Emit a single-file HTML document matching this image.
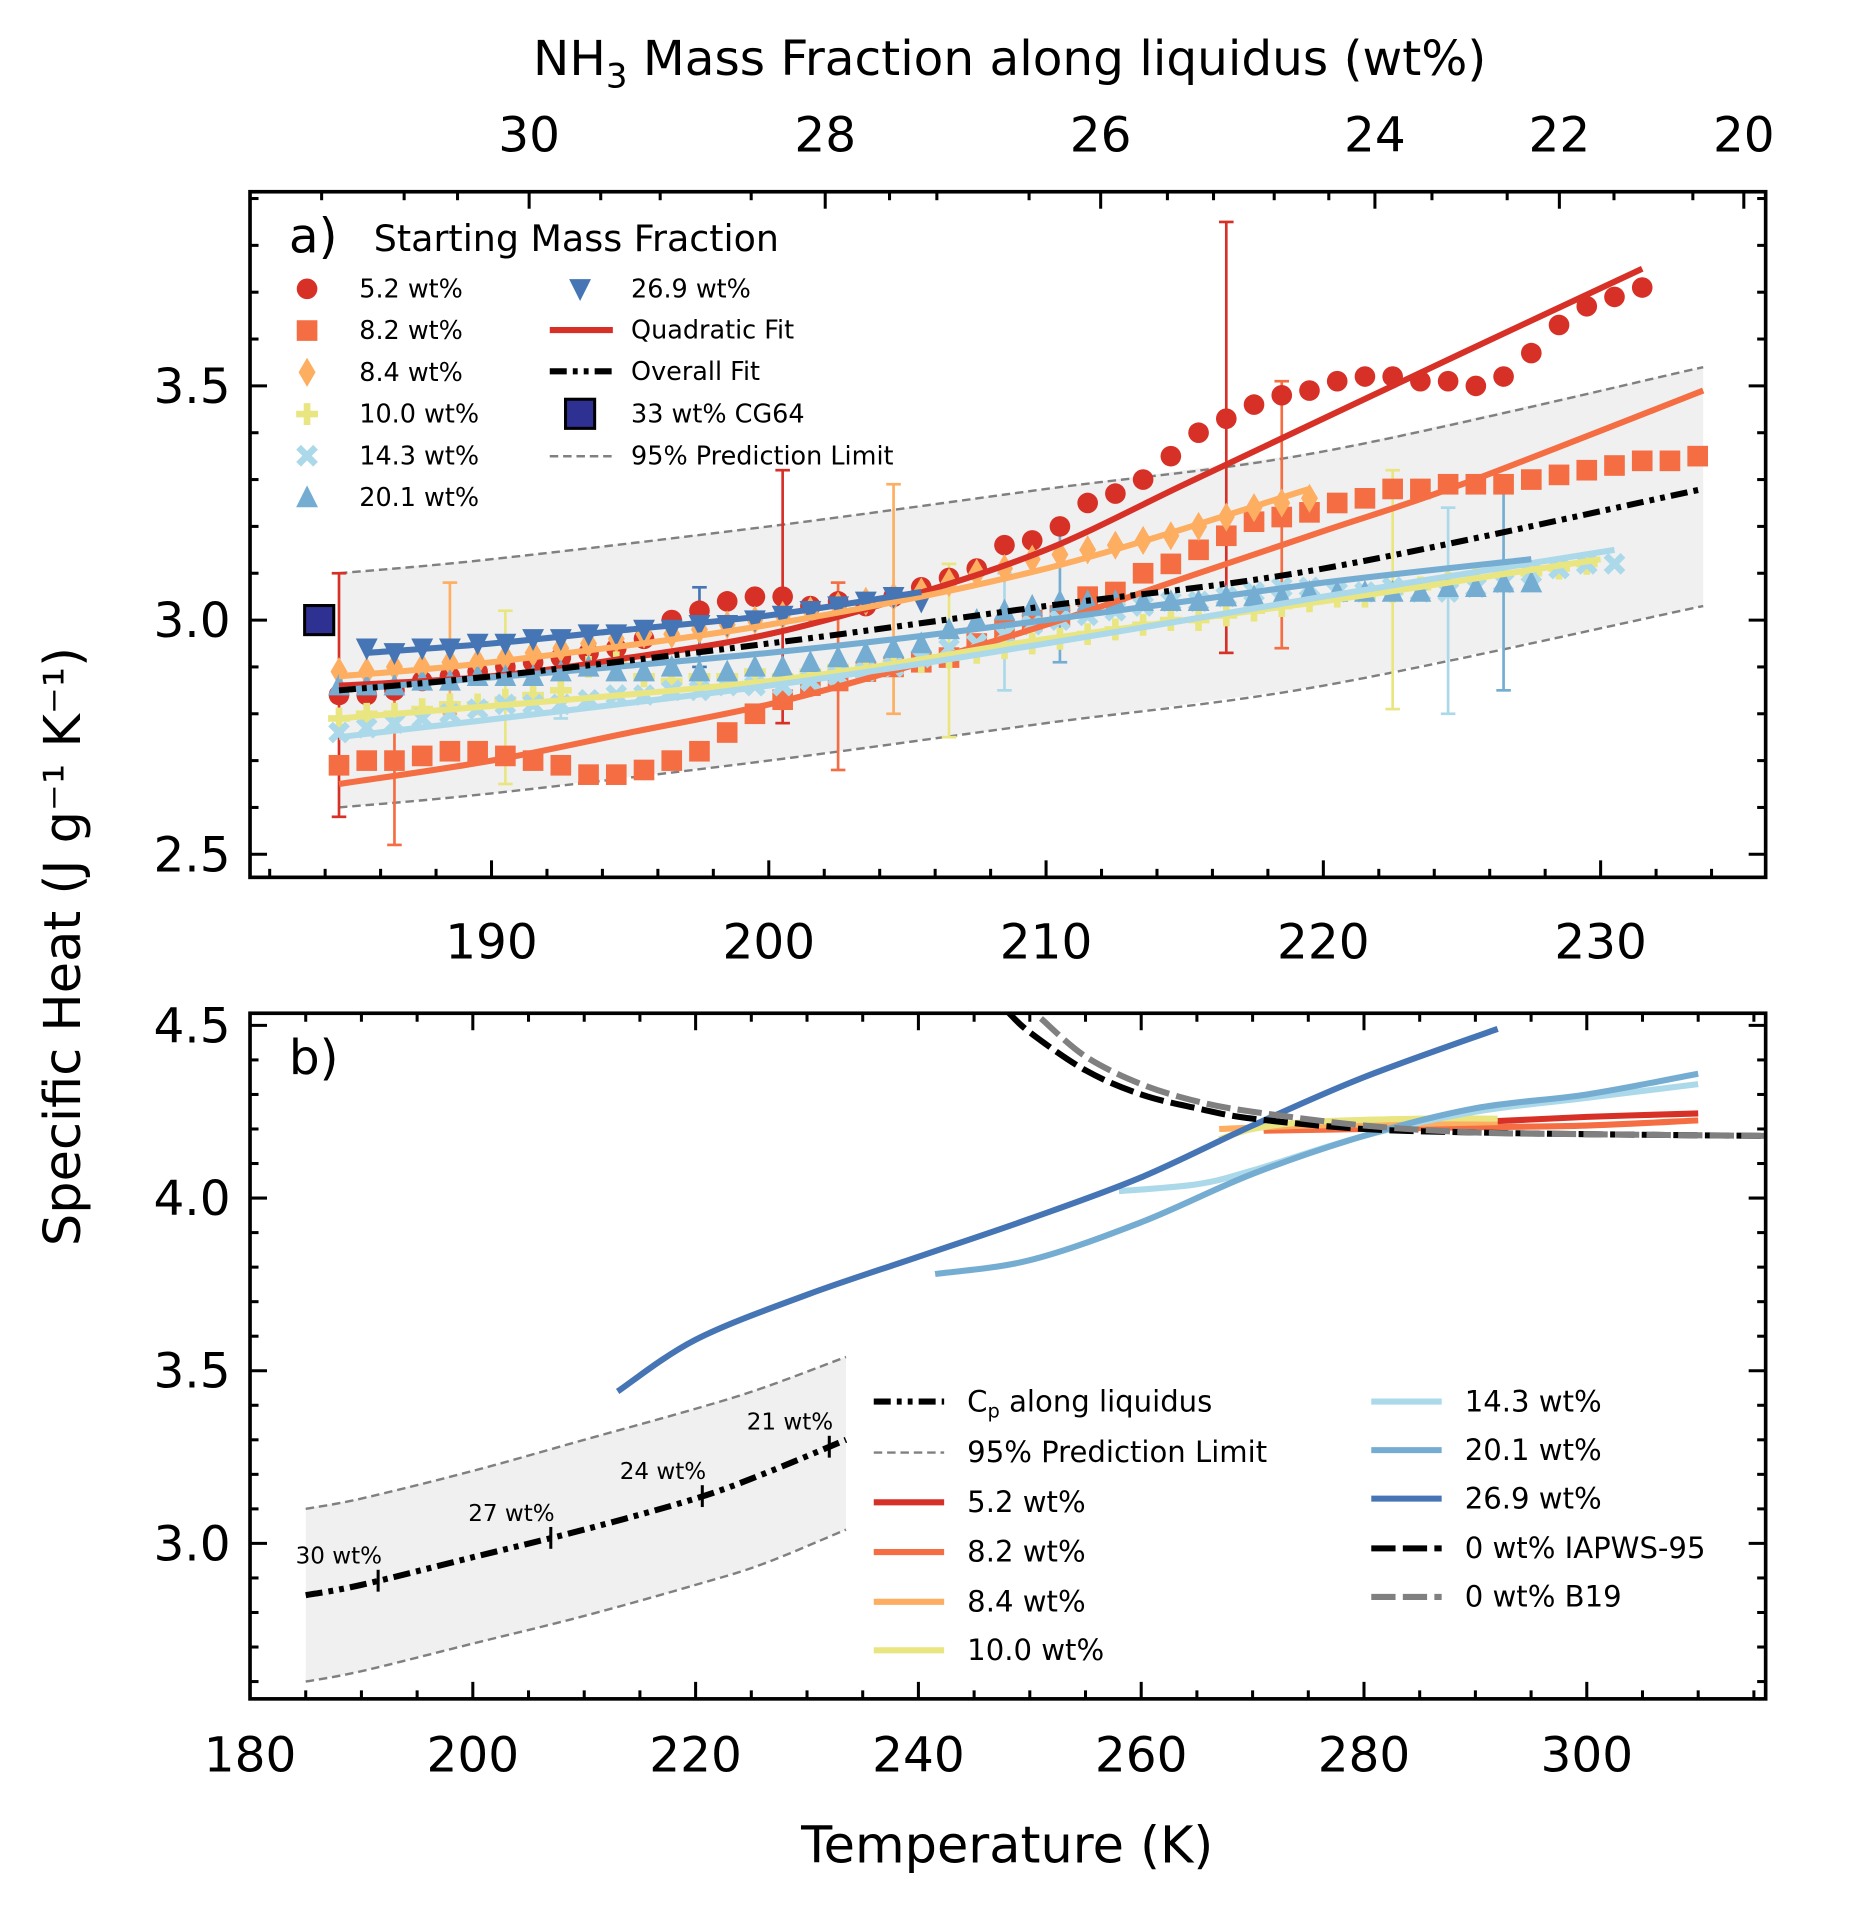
<!DOCTYPE html>
<html><head><meta charset="utf-8"><style>
html,body{margin:0;padding:0;background:#fff;}
svg{display:block;font-family:"DejaVu Sans","Liberation Sans",sans-serif;}
</style></head><body>
<svg id="fig" width="1864" height="1927" viewBox="0 0 1536 1588" xmlns="http://www.w3.org/2000/svg"></svg>
<script>
// ---------- Panel a data ----------
const aT0 = 184.5;
const red52 = [2.84,2.84,2.85,2.87,2.88,2.89,2.90,2.91,2.92,2.93,2.94,2.96,3.00,3.02,3.04,3.05,3.05,3.03,3.04,3.03,3.05,3.07,3.09,3.11,3.16,3.17,3.20,3.25,3.27,3.30,3.35,3.40,3.43,3.46,3.48,3.49,3.51,3.52,3.52,3.51,3.51,3.50,3.52,3.57,3.63,3.67,3.69,3.71];
const org82 = [2.69,2.70,2.70,2.71,2.72,2.72,2.71,2.70,2.69,2.67,2.67,2.68,2.70,2.72,2.76,2.80,2.83,2.86,2.87,2.89,2.90,2.91,2.92,2.95,2.98,3.00,3.01,3.05,3.06,3.10,3.12,3.15,3.18,3.21,3.22,3.23,3.25,3.26,3.28,3.28,3.29,3.29,3.29,3.30,3.31,3.32,3.33,3.34,3.34,3.35];
const lor84 = [2.89,2.89,2.90,2.90,2.91,2.91,2.92,2.93,2.94,2.95,2.96,2.97,2.97,2.98,2.99,3.00,3.01,3.02,3.03,3.04,3.05,3.06,3.08,3.10,3.11,3.13,3.14,3.15,3.16,3.17,3.18,3.20,3.22,3.24,3.25,3.26];
const yel100 = [2.79,2.80,2.80,2.81,2.82,2.82,2.83,2.84,2.85,2.90,2.91,2.88,2.87,2.88,2.88,2.89,2.88,2.89,2.90,2.90,2.91,2.91,2.92,2.93,2.94,2.95,2.96,2.97,2.98,2.99,3.00,3.00,3.01,3.02,3.03,3.04,3.05,3.05,3.06,3.07,3.08,3.09,3.10,3.10,3.11,3.12];
const lbl143 = [2.76,2.77,2.78,2.79,2.80,2.81,2.82,2.82,2.82,2.83,2.84,2.84,2.85,2.85,2.86,2.86,2.86,2.87,2.88,2.89,2.90,2.92,2.94,2.95,2.97,2.99,3.00,3.01,3.02,3.03,3.04,3.04,3.05,3.06,3.07,3.07,3.06,3.06,3.07,3.06,3.06,3.07,3.08,3.10,3.11,3.12,3.12];
const blu201 = [2.86,2.86,2.86,2.87,2.87,2.88,2.88,2.88,2.89,2.90,2.89,2.89,2.90,2.89,2.89,2.90,2.90,2.91,2.92,2.93,2.94,2.95,2.98,3.00,3.02,3.03,3.04,3.04,3.04,3.04,3.04,3.04,3.05,3.05,3.05,3.06,3.06,3.06,3.06,3.06,3.07,3.07,3.08,3.08];
const dbl269 = [2.94,2.93,2.94,2.94,2.95,2.95,2.96,2.96,2.97,2.97,2.98,2.98,2.99,2.99,3.00,3.01,3.02,3.03,3.04,3.05,3.04];
// fits: [T, value]
const fitRedT=[184.5,190,195,200,205,210,215,220,225,231.5], fitRedV=[2.86,2.88,2.92,2.97,3.05,3.15,3.29,3.43,3.57,3.75];
const fitOrgT=[184.5,190,195,200,205,210,215,220,225,233.7], fitOrgV=[2.65,2.70,2.76,2.82,2.90,2.99,3.09,3.19,3.29,3.49];
const fitLorT=[184.5,190,200,210,219.5], fitLorV=[2.88,2.91,2.99,3.11,3.28];
const fitYelT=[184.5,200,210,220,230], fitYelV=[2.79,2.87,2.96,3.04,3.13];
const fitLblT=[184.5,200,210,220,230.5], fitLblV=[2.75,2.86,2.95,3.05,3.15];
const fitBluT=[184.5,200,210,220,227.5], fitBluV=[2.85,2.93,3.00,3.08,3.13];
const fitDblT=[185.5,190,195,200,205.5], fitDblV=[2.93,2.95,2.98,3.01,3.06];
const overallT=[184.5,190,200,210,220,233.7], overallV=[2.85,2.88,2.95,3.03,3.11,3.28];
const piUpV=[3.10,3.13,3.20,3.28,3.36,3.54], piLoV=[2.60,2.63,2.70,2.78,2.86,3.03];
// error bars
const errT=[184.5,186.5,188.5,190.5,192.5,197.5,200.5,202.5,204.5,206.5,208.5,210.5,216.5,218.5,222.5,224.5,226.5];
const errLo=[2.58,2.52,2.80,2.65,2.79,2.90,2.78,2.68,2.80,2.75,2.85,2.91,2.93,2.94,2.81,2.80,2.85];
const errHi=[3.10,2.86,3.08,3.02,2.88,3.07,3.32,3.08,3.29,3.12,3.10,3.21,3.85,3.51,3.32,3.24,3.29];
const errC=['#d73027','#f46d43','#fdae61','#e9e682','#abd9e9','#4575b4','#d73027','#f46d43','#fdae61','#e9e682','#abd9e9','#74add1','#d73027','#f46d43','#e9e682','#abd9e9','#74add1'];
// ---------- Panel b data ----------
const bDblT=[213,220,230,240,250,260,270,280,292], bDblV=[3.44,3.59,3.72,3.83,3.94,4.06,4.21,4.35,4.49];
const bBluT=[241.5,250,260,270,280,290,300,310], bBluV=[3.78,3.82,3.93,4.07,4.18,4.26,4.30,4.36];
const bLblT=[258,265,270,280,290,300,310], bLblV=[4.02,4.04,4.08,4.18,4.25,4.29,4.33];
const bRedT=[271,280,290,300,310], bRedV=[4.20,4.21,4.22,4.235,4.245];
const bOrgT=[271,280,290,300,310], bOrgV=[4.195,4.20,4.205,4.21,4.225];
const bLorT=[267,275,285,292], bLorV=[4.20,4.21,4.215,4.22];
const bYelT=[267,270,275,285,292], bYelV=[4.17,4.20,4.22,4.23,4.23];
const iapT=[248,250,255,260,265,270,280,290,300,316], iapV=[4.54,4.48,4.37,4.30,4.26,4.23,4.20,4.19,4.185,4.18];
const b19T=[251,255,260,265,270,280,290,300,316], b19V=[4.52,4.41,4.33,4.28,4.25,4.21,4.19,4.185,4.18];
const cpT=[185,190,200,210,220,226,233.5], cpV=[2.85,2.88,2.96,3.04,3.13,3.20,3.30];
const cpUp=[3.10,3.13,3.21,3.30,3.39,3.45,3.54], cpLo=[2.60,2.63,2.71,2.79,2.88,2.94,3.04];
const cpMarkT=[191.5,207,220.6,232], cpMarkLbl=['30 wt%','27 wt%','24 wt%','21 wt%'];
// ticks
const aXTicks=[190,200,210,220,230], aYTicks=[2.5,3.0,3.5];
const topLbl=['30','28','26','24','22','20'], topPos=[436,680,907,1133,1285,1437];
const bXTicks=[180,200,220,240,260,280,300], bYTicks=[3.0,3.5,4.0,4.5];

const NS='http://www.w3.org/2000/svg', svg=document.getElementById('fig');
function el(tag,attrs,parent){const e=document.createElementNS(NS,tag);for(const k in attrs)e.setAttribute(k,attrs[k]);(parent||svg).appendChild(e);return e;}
const ax=T=>405+(T-190)*22.85, ay=v=>511-(v-3.0)*386;
const bx=T=>206+(T-180)*9.18, by=v=>845-(v-4.5)*284.6;
function pathOf(Ts,Vs,fx,fy){return Ts.map((t,i)=>(i?'L':'M')+fx(t).toFixed(1)+','+fy(Vs[i]).toFixed(1)).join(' ');}
function smooth(Ts,Vs,fx,fy){
  const p=Ts.map((t,i)=>[fx(t),fy(Vs[i])]);let d='M'+p[0][0]+','+p[0][1];
  for(let i=0;i<p.length-1;i++){const p0=p[i-1]||p[i],p1=p[i],p2=p[i+1],p3=p[i+2]||p2;
    d+=` C${p1[0]+(p2[0]-p0[0])/6},${p1[1]+(p2[1]-p0[1])/6} ${p2[0]-(p3[0]-p1[0])/6},${p2[1]-(p3[1]-p1[1])/6} ${p2[0]},${p2[1]}`;}
  return d;}
function text(x,y,s,size,attrs,name){const t=el('text',Object.assign({x:x,y:y,'font-size':size,fill:'#000'},attrs||{}));t.textContent=s;
  
  return t;}
function marker(type,x,y,c,g){let e;const s=8.5;
  if(type==='o')e=el('circle',{cx:x,cy:y,r:s,fill:c},g);
  else if(type==='s')e=el('rect',{x:x-s,y:y-s,width:2*s,height:2*s,fill:c},g);
  else if(type==='d')e=el('path',{d:`M${x},${y-12}L${x+7},${y}L${x},${y+12}L${x-7},${y}Z`,fill:c},g);
  else if(type==='+')e=el('path',{d:`M${x-9},${y}H${x+9}M${x},${y-9}V${y+9}`,stroke:c,'stroke-width':5.5,fill:'none'},g);
  else if(type==='x')e=el('path',{d:`M${x-7},${y-7}L${x+7},${y+7}M${x+7},${y-7}L${x-7},${y+7}`,stroke:c,'stroke-width':5.5,fill:'none'},g);
  else if(type==='^')e=el('path',{d:`M${x},${y-10}L${x+9},${y+8}L${x-9},${y+8}Z`,fill:c},g);
  else if(type==='v')e=el('path',{d:`M${x},${y+10}L${x+9},${y-8}L${x-9},${y-8}Z`,fill:c},g);
  return e;}

// ===== PANEL A =====
const gA=el('g',{});


const clipA=el('clipPath',{id:'ca'});el('rect',{x:206,y:158,width:1249,height:565},clipA);
const band=el('path',{d:pathOf(overallT,piUpV,ax,ay)+' '+pathOf(overallT.slice().reverse(),piLoV.slice().reverse(),ax,ay).replace('M','L')+'Z',fill:'#f0f0f0'},gA);


[piUpV,piLoV].forEach((v,i)=>{const p=el('path',{d:smooth(overallT,v,ax,ay),stroke:'#808080','stroke-width':2,'stroke-dasharray':'7,4',fill:'none'},gA);
 
 });
errT.forEach((t,i)=>{const g=el('g',{stroke:errC[i],'stroke-width':2.2},gA);
 
 
 const x=ax(t);el('line',{x1:x,x2:x,y1:ay(errLo[i]),y2:ay(errHi[i])},g);
 el('line',{x1:x-6,x2:x+6,y1:ay(errLo[i]),y2:ay(errLo[i])},g);el('line',{x1:x-6,x2:x+6,y1:ay(errHi[i]),y2:ay(errHi[i])},g);});
const seriesA=[['series-5-2',red52,'o','#d73027',aT0,fitRedT,fitRedV],['series-8-2',org82,'s','#f46d43',aT0,fitOrgT,fitOrgV],['series-8-4',lor84,'d','#fdae61',aT0,fitLorT,fitLorV],['series-10-0',yel100,'+','#e9e682',aT0,fitYelT,fitYelV],['series-14-3',lbl143,'x','#abd9e9',aT0,fitLblT,fitLblV],['series-20-1',blu201,'^','#74add1',aT0,fitBluT,fitBluV],['series-26-9',dbl269,'v','#4575b4',185.5,fitDblT,fitDblV]];
seriesA.forEach(s=>{const g=el('g',{},gA);
 
 
 s[1].forEach((v,i)=>marker(s[2],ax(s[4]+i),ay(v),s[3],g));});
seriesA.forEach(s=>{const p=el('path',{d:smooth(s[5],s[6],ax,ay),stroke:s[3],'stroke-width':5,fill:'none','clip-path':'url(#ca)'},gA);
 
 });
const ov=el('path',{d:smooth(overallT,overallV,ax,ay),stroke:'#000','stroke-width':5,'stroke-dasharray':'14,5,4,5,4,5',fill:'none'},gA);


const cg=el('rect',{x:251,y:499,width:24,height:24,fill:'#2e3192',stroke:'#000','stroke-width':2.5},gA);


el('rect',{x:206,y:158,width:1249,height:565,fill:'none',stroke:'#000','stroke-width':3},gA);
for(let t=182;t<=236;t+=2){const x=ax(t);if(x<206||x>1455)continue;const maj=t%10===0;el('line',{x1:x,x2:x,y1:723,y2:723-(maj?14:7),stroke:'#000','stroke-width':2.5},gA);}
aXTicks.forEach(t=>text(ax(t),790,String(t),40,{'text-anchor':'middle'},'x-tick-label'));
for(let v=2.5;v<=3.91;v+=0.1){const y=ay(v);const maj=Math.abs(v*2-Math.round(v*2))<0.01;
 el('line',{x1:206,x2:206+(maj?14:7),y1:y,y2:y,stroke:'#000','stroke-width':2.5},gA);el('line',{x1:1455,x2:1455-(maj?14:7),y1:y,y2:y,stroke:'#000','stroke-width':2.5},gA);}
aYTicks.forEach(v=>text(190,ay(v)+14,v.toFixed(1),40,{'text-anchor':'end'},'y-tick-label'));
topPos.forEach((x,i)=>{el('line',{x1:x,x2:x,y1:158,y2:172,stroke:'#000','stroke-width':2.5},gA);text(x,125,topLbl[i],40,{'text-anchor':'middle'},'top-tick-label');});
[265,333,377,495,544,619,733,772,848,962,1000,1050,1095,1180,1242,1330,1395].forEach(x=>el('line',{x1:x,x2:x,y1:158,y2:165,stroke:'#000','stroke-width':2.5},gA));
const tt=text(832,62,'NH',40,{'text-anchor':'middle'},'top-axis-title');
const ts1=document.createElementNS(NS,'tspan');ts1.setAttribute('font-size',28);ts1.setAttribute('dy',10);ts1.textContent='3';tt.appendChild(ts1);
const ts2=document.createElementNS(NS,'tspan');ts2.setAttribute('dy',-10);ts2.textContent=' Mass Fraction along liquidus (wt%)';tt.appendChild(ts2);
text(238,208,'a)',40,{},'panel-a-label');
text(308,207,'Starting Mass Fraction',30,{},'legend-title');
const legA=[['o','#d73027','5.2 wt%'],['s','#f46d43','8.2 wt%'],['d','#fdae61','8.4 wt%'],['+','#e9e682','10.0 wt%'],['x','#abd9e9','14.3 wt%'],['^','#74add1','20.1 wt%']];
legA.forEach((l,i)=>{const y=238+i*34.4;marker(l[0],253,y,l[1],gA);text(296,y+7,l[2],21,{},'legend-entry');});
marker('v',478,238,'#4575b4',gA);text(520,245,'26.9 wt%',21,{},'legend-entry');
el('line',{x1:453,x2:505,y1:272,y2:272,stroke:'#d73027','stroke-width':5},gA);text(520,279,'Quadratic Fit',21,{},'legend-entry');
el('line',{x1:453,x2:505,y1:306,y2:306,stroke:'#000','stroke-width':5,'stroke-dasharray':'14,5,4,5,4,5'},gA);text(520,313,'Overall Fit',21,{},'legend-entry');
el('rect',{x:466,y:329,width:24,height:24,fill:'#2e3192',stroke:'#000','stroke-width':2.5},gA);text(520,348,'33 wt% CG64',21,{},'legend-entry');
el('line',{x1:453,x2:505,y1:376,y2:376,stroke:'#808080','stroke-width':2,'stroke-dasharray':'7,4'},gA);text(520,383,'95% Prediction Limit',21,{},'legend-entry');

// ===== PANEL B =====
const gB=el('g',{});


const clipB=el('clipPath',{id:'cb'});el('rect',{x:206,y:835,width:1249,height:565},clipB);
el('path',{d:pathOf(cpT,cpUp,bx,by)+' '+pathOf(cpT.slice().reverse(),cpLo.slice().reverse(),bx,by).replace('M','L')+'Z',fill:'#f0f0f0'},gB);
[cpUp,cpLo].forEach(v=>el('path',{d:smooth(cpT,v,bx,by),stroke:'#808080','stroke-width':2,'stroke-dasharray':'7,4',fill:'none'},gB));
const cpl=el('path',{d:smooth(cpT,cpV,bx,by),stroke:'#000','stroke-width':5,'stroke-dasharray':'14,5,4,5,4,5',fill:'none'},gB);


cpMarkT.forEach((t,i)=>{const x=bx(t);let v=cpV[0];for(let k=0;k<cpT.length-1;k++){if(t>=cpT[k]&&t<=cpT[k+1]){v=cpV[k]+(cpV[k+1]-cpV[k])*(t-cpT[k])/(cpT[k+1]-cpT[k]);}}
 const y=by(v);el('line',{x1:x,x2:x,y1:y-9,y2:y+9,stroke:'#000','stroke-width':2.5},gB);text(x-68,y-14,cpMarkLbl[i],19,{},'cp-wt-label');});
const seriesB=[['curve-5-2',bRedT,bRedV,'#d73027'],['curve-8-2',bOrgT,bOrgV,'#f46d43'],['curve-8-4',bLorT,bLorV,'#fdae61'],['curve-10-0',bYelT,bYelV,'#e9e682'],['curve-14-3',bLblT,bLblV,'#abd9e9'],['curve-20-1',bBluT,bBluV,'#74add1'],['curve-26-9',bDblT,bDblV,'#4575b4']];
seriesB.forEach(s=>{const p=el('path',{d:smooth(s[1],s[2],bx,by),stroke:s[3],'stroke-width':5,fill:'none','clip-path':'url(#cb)'},gB);
 
 });
const iap=el('path',{d:smooth(iapT,iapV,bx,by),stroke:'#000','stroke-width':5,'stroke-dasharray':'20,6',fill:'none','clip-path':'url(#cb)'},gB);


const b19=el('path',{d:smooth(b19T,b19V,bx,by),stroke:'#808080','stroke-width':5,'stroke-dasharray':'20,6',fill:'none','clip-path':'url(#cb)'},gB);


el('rect',{x:206,y:835,width:1249,height:565,fill:'none',stroke:'#000','stroke-width':3},gB);
for(let t=180;t<=316;t+=5){const x=bx(t);const maj=t%20===0;el('line',{x1:x,x2:x,y1:1400,y2:1400-(maj?14:7),stroke:'#000','stroke-width':2.5},gB);el('line',{x1:x,x2:x,y1:835,y2:835+(maj?14:7),stroke:'#000','stroke-width':2.5},gB);}
bXTicks.forEach(t=>text(bx(t),1460,String(t),40,{'text-anchor':'middle'},'x-tick-label'));
for(let v=2.6;v<=4.51;v+=0.1){const y=by(v);const maj=Math.abs(v*2-Math.round(v*2))<0.01;
 el('line',{x1:206,x2:206+(maj?14:7),y1:y,y2:y,stroke:'#000','stroke-width':2.5},gB);el('line',{x1:1455,x2:1455-(maj?14:7),y1:y,y2:y,stroke:'#000','stroke-width':2.5},gB);}
bYTicks.forEach(v=>text(190,by(v)+14,v.toFixed(1),40,{'text-anchor':'end'},'y-tick-label'));
text(238,885,'b)',40,{},'panel-b-label');
const l1=[['Cp','#000','14,5,4,5,4,5',5],['95% Prediction Limit','#808080','7,4',2],['5.2 wt%','#d73027','',5],['8.2 wt%','#f46d43','',5],['8.4 wt%','#fdae61','',5],['10.0 wt%','#e9e682','',5]];
const l1y=[1155,1197,1238,1279,1320,1360];
l1.forEach((l,i)=>{el('line',{x1:720,x2:778,y1:l1y[i],y2:l1y[i],stroke:l[1],'stroke-width':l[3],'stroke-dasharray':l[2]||'none'},gB);
 if(i===0){const t=text(797,l1y[i]+8,'C',24,{},'legend-entry');const ts=document.createElementNS(NS,'tspan');ts.setAttribute('font-size',16);ts.setAttribute('dy',5);ts.textContent='p';t.appendChild(ts);const t2=document.createElementNS(NS,'tspan');t2.setAttribute('dy',-5);t2.textContent=' along liquidus';t.appendChild(t2);}
 else text(797,l1y[i]+8,l[0],24,{},'legend-entry');});
const l2=[['14.3 wt%','#abd9e9',''],['20.1 wt%','#74add1',''],['26.9 wt%','#4575b4',''],['0 wt% IAPWS-95','#000','20,6'],['0 wt% B19','#808080','20,6']];
const l2y=[1155,1195,1235,1276,1316];
l2.forEach((l,i)=>{el('line',{x1:1130,x2:1188,y1:l2y[i],y2:l2y[i],stroke:l[1],'stroke-width':5,'stroke-dasharray':l[2]||'none'},gB);text(1207,l2y[i]+8,l[0],24,{},'legend-entry');});
text(830,1535,'Temperature (K)',42,{'text-anchor':'middle'},'x-axis-title');
text(0,0,'Specific Heat (J g\u207B\u00B9 K\u207B\u00B9)',42,{'text-anchor':'middle',transform:'translate(66,780) rotate(-90)'},'y-axis-title');
</script>
</body></html>
